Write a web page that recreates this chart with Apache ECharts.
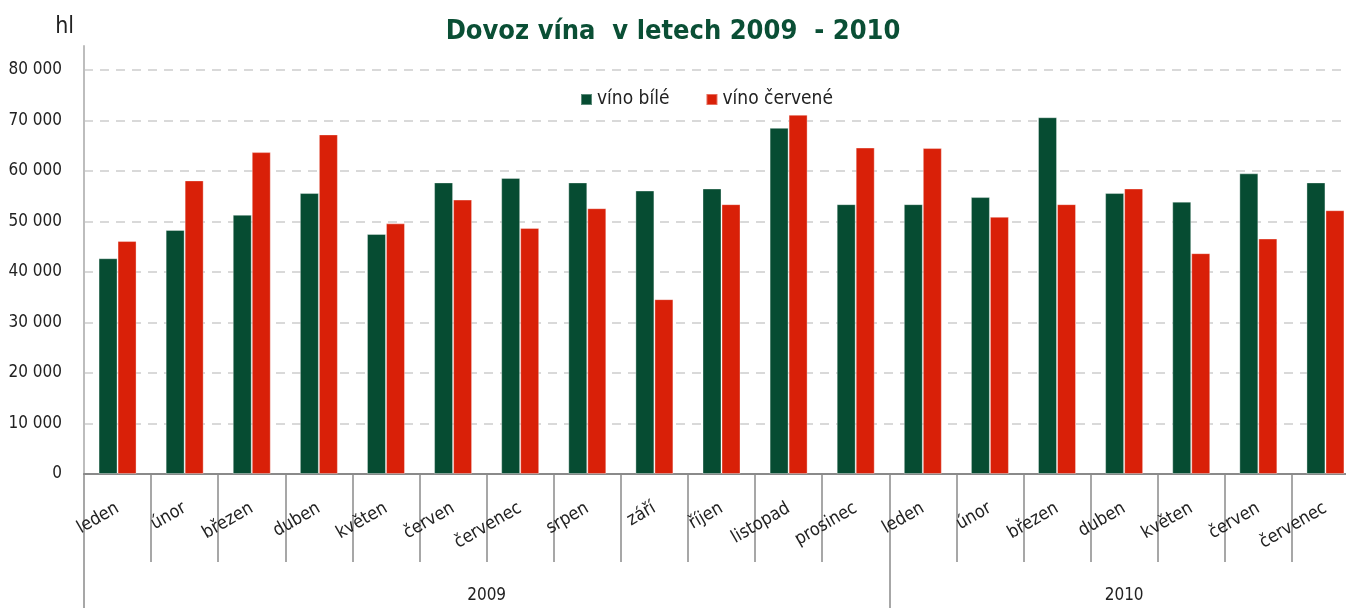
<!DOCTYPE html>
<html>
<head>
<meta charset="utf-8">
<script src="https://cdn.jsdelivr.net/npm/echarts@6/dist/echarts.min.js"></script>
<style>
html,body{margin:0;padding:0;background:#fff;}
#chart{width:1346px;height:608px;}
</style>
</head>
<body>
<div id="chart"></div>
<script>
var months = ["leden","únor","březen","duben","květen","červen","červenec","srpen","září","říjen","listopad","prosinec",
              "leden","únor","březen","duben","květen","červen","červenec"];
var years = ["2009","2010"];
var yearSpans = [12,7];
var seriesNames = ["víno bílé","víno červené"];
var vinoBile = [42700,48300,51300,55600,47500,57700,58600,57700,56100,56500,68500,53400,
                53400,54800,70600,55600,53900,59500,57700];
var vinoCervene = [46100,58100,63700,67200,49600,54300,48700,52600,34600,53400,71100,64600,
                   64500,50900,53400,56500,43700,46600,52200];
var yTicks = [0,10000,20000,30000,40000,50000,60000,70000,80000];

var FONT = "'DejaVu Sans Condensed','DejaVu Sans',sans-serif";
var GREEN = "#064c32", RED = "#d92008";

var yearBounds = [0], yearCenters = [];
(function(){ var acc = 0; for (var i=0;i<yearSpans.length;i++){ yearCenters.push(acc + yearSpans[i]/2); acc += yearSpans[i]; yearBounds.push(acc);} })();

var chart = echarts.init(document.getElementById('chart'), null, {renderer:'canvas'});
chart.setOption({
  animation:false,
  backgroundColor:'#fff',
  title:{
    text:'Dovoz vína  v letech 2009  - 2010',
    left:'center', top:13,
    textStyle:{fontFamily:FONT, fontWeight:'bold', fontSize:27, color:'#0a4f35'}
  },
  legend:{
    data:seriesNames,
    left:575, top:85,
    itemWidth:11, itemHeight:11, itemGap:36,
    icon:'rect',
    textStyle:{fontFamily:FONT, fontSize:19, color:'#222'}
  },
  grid:{left:84, top:46, height:428, width:1275, containLabel:false, outerBoundsMode:'none'},
  xAxis:[{
    type:'category',
    data:months,
    position:'bottom',
    axisLine:{show:true, lineStyle:{color:'#8a8a8a', width:2}},
    axisTick:{show:true, interval:0, length:88, lineStyle:{color:'#8a8a8a', width:1.5}},
    axisLabel:{interval:0, rotate:30, margin:33, fontFamily:FONT, fontSize:18, color:'#222'},
    splitLine:{show:false}
  },{
    type:'value',
    min:0, max:months.length,
    position:'bottom',
    offset:88,
    axisLine:{show:false},
    splitLine:{show:false},
    axisTick:{show:true, customValues:yearBounds, length:48, lineStyle:{color:'#8a8a8a', width:1.5}},
    axisLabel:{show:true, customValues:yearCenters, margin:25, fontFamily:FONT, fontSize:17, color:'#222',
      formatter:function(v){ var i = yearCenters.indexOf(v); return i>=0 ? years[i] : ''; }}
  }],
  yAxis:{
    type:'value',
    min:0, max:84700, interval:10000,
    name:'hl',
    nameLocation:'end',
    nameGap:7,
    nameTextStyle:{fontFamily:FONT, fontSize:23, color:'#222', align:'right', padding:[0,10,0,0]},
    axisLine:{show:true, lineStyle:{color:'#bdbdbd', width:2}},
    axisTick:{show:false},
    axisLabel:{margin:22, fontFamily:FONT, fontSize:17, color:'#222', showMaxLabel:false,
      formatter:function(v){ return yTicks.indexOf(v)>=0 ? String(v).replace(/\B(?=(\d{3})+(?!\d))/g,' ') : ''; }},
    splitLine:{show:true, showMaxLine:false, lineStyle:{color:'#d9d9d9', width:2, type:[9,7]}}
  },
  series:[{
    name:seriesNames[0], type:'bar', data:vinoBile, barWidth:19, barGap:'0%',
    itemStyle:{color:GREEN, borderColor:'rgba(255,255,255,0.35)', borderWidth:1}
  },{
    name:seriesNames[1], type:'bar', data:vinoCervene, barWidth:19, barGap:'0%',
    itemStyle:{color:RED, borderColor:'rgba(255,255,255,0.35)', borderWidth:1}
  },{
    type:'scatter', xAxisIndex:1, data:[], silent:true
  }]
});
</script>
</body>
</html>
